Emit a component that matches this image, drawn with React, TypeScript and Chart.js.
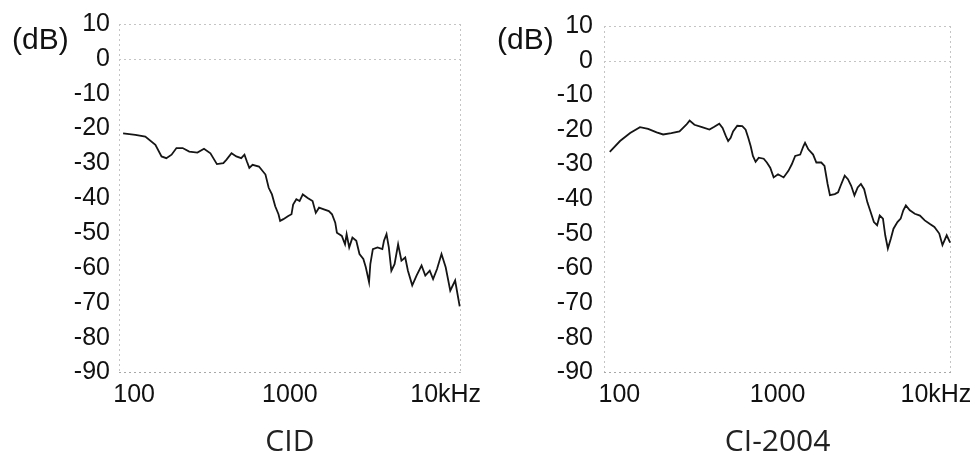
import React, { useEffect, useRef } from "react";
import { Chart, registerables } from "chart.js";

Chart.register(...registerables);

// ---- axis ticks ----
const xTickValues = [100, 1000, 10000];
const xTickLabels = ["100", "1000", "10kHz"];
const yMin = -90;
const yMax = 10;
const yStep = 10;
const xMin = 80;
const xMax = 12500;

// ---- CID response (Hz, dB) ----
const cidFreq = [
  85, 102, 118, 137, 150, 161, 174, 187, 205, 226, 255, 281, 309, 340, 374, 392,
  422, 453, 487, 511, 529, 549, 576, 633, 697, 731, 767, 805, 845, 866, 908, 976,
  1024, 1049, 1100, 1154, 1210, 1301, 1398, 1466, 1538, 1653, 1778, 1864, 1955,
  2003, 2154, 2259, 2313, 2403, 2520, 2668, 2797, 2961, 3071, 3222, 3283, 3408,
  3652, 3922, 4017, 4171, 4315, 4480, 4697, 4950, 5200, 5500, 5723, 6100, 6500,
  7000, 7400, 7900, 8300, 8800, 9400, 10000, 10700, 11500, 11900, 12300,
];
const cidDb = [
  -21.4, -21.8, -22.3, -24.7, -28.0, -28.5, -27.5, -25.6, -25.6, -26.6, -26.9,
  -25.8, -27.1, -30.2, -29.9, -28.9, -27.1, -28.0, -28.5, -27.5, -29.4, -31.3,
  -30.4, -30.9, -33.2, -37.0, -38.9, -42.3, -44.6, -46.5, -46.0, -45.1, -44.6,
  -41.8, -40.3, -40.8, -38.9, -39.9, -40.8, -44.2, -42.7, -43.2, -43.7, -44.6,
  -47.0, -49.9, -50.8, -53.2, -50.3, -54.1, -51.3, -52.2, -56.0, -57.4, -59.8,
  -64.1, -58.9, -54.6, -54.1, -54.6, -52.2, -50.3, -54.1, -60.8, -58.9, -53.2,
  -57.9, -57.0, -60.8, -65.0, -62.2, -59.3, -62.2, -60.8, -63.2, -60.3, -56.0,
  -59.8, -66.5, -63.6, -67.4, -71.0,
];

// ---- CI-2004 response (Hz, dB) ----
const ciFreq = [
  87, 101, 117, 135, 152, 172, 189, 213, 240, 265, 278, 298, 329, 371, 398, 428,
  449, 471, 487, 505, 523, 556, 598, 628, 653, 676, 698, 726, 760, 817, 855, 898,
  944, 1006, 1091, 1170, 1229, 1291, 1389, 1454, 1490, 1563, 1676, 1757, 1887,
  1978, 2069, 2141, 2298, 2409, 2500, 2654, 2781, 2916, 3057, 3205, 3359, 3521,
  3691, 3869, 4057, 4252, 4416, 4629, 4785, 4971, 5194, 5395, 5714, 5989, 6224,
  6459, 6844, 7355, 7925, 8499, 9122, 9781, 10500, 11000, 11700, 12300,
];
const ciDb = [
  -26.3, -23.2, -20.9, -19.2, -19.7, -20.7, -21.3, -20.9, -20.4, -18.5, -17.3,
  -18.5, -19.1, -19.9, -19.1, -18.2, -19.4, -21.8, -23.2, -22.3, -20.4, -18.8,
  -18.9, -19.9, -22.3, -24.7, -27.5, -29.2, -28.0, -28.3, -29.4, -30.9, -33.7,
  -32.8, -33.7, -31.8, -29.9, -27.5, -27.1, -24.7, -23.7, -25.6, -27.1, -29.4,
  -29.4, -30.4, -35.6, -38.8, -38.5, -38.0, -36.1, -33.2, -34.2, -36.1, -38.9,
  -36.6, -35.6, -37.1, -40.9, -43.7, -46.6, -47.5, -44.7, -45.6, -50.4, -54.2,
  -51.3, -48.5, -46.6, -45.6, -43.2, -41.8, -43.2, -44.2, -44.7, -46.1, -47.1,
  -48.0, -49.9, -53.2, -50.4, -52.5,
];

const framePlugin = {
  id: "frame",
  beforeDatasetsDraw(chart: any, _args: any, opts: any) {
    const { ctx, chartArea, scales } = chart;
    const { left, right, top, bottom } = chartArea;
    const y0 = Math.round(scales.y.getPixelForValue(0)) + 0.5;
    ctx.save();
    ctx.strokeStyle = "#c4c4c4";
    ctx.lineWidth = 1;
    ctx.setLineDash([2, 3]);
    ctx.beginPath();
    ctx.moveTo(left, Math.round(top) + 0.5);
    ctx.lineTo(right, Math.round(top) + 0.5);
    ctx.moveTo(left, y0);
    ctx.lineTo(right, y0);
    ctx.moveTo(Math.round(left) + 0.5, top);
    ctx.lineTo(Math.round(left) + 0.5, bottom);
    ctx.moveTo(Math.round(right) - 0.5, top);
    ctx.lineTo(Math.round(right) - 0.5, bottom);
    ctx.stroke();
    ctx.strokeStyle = "#a8a8a8";
    ctx.beginPath();
    ctx.moveTo(left, Math.round(bottom) - 0.5);
    ctx.lineTo(right, Math.round(bottom) - 0.5);
    ctx.stroke();
    ctx.restore();
  },
  afterDraw(chart: any, _args: any, opts: any) {
    const { ctx, chartArea } = chart;
    ctx.save();
    ctx.font = "30px 'Liberation Sans', Arial, sans-serif";
    ctx.fillStyle = "#111";
    ctx.textAlign = "left";
    ctx.textBaseline = "middle";
    ctx.fillText(opts.unit || "", chartArea.left - 107, 41);
    ctx.restore();
  },
};

type PanelProps = {
  freq: number[];
  db: number[];
  title: string;
  left: number;
  axisWidth: number;
  padRight: number;
  yPad: number;
};

function Panel({ freq, db, title, left, axisWidth, padRight, yPad }: PanelProps) {
  const ref = useRef<HTMLCanvasElement | null>(null);
  useEffect(() => {
    if (!ref.current) return;
    const points = freq.map((f, i) => ({ x: f, y: db[i] }));
    const chart = new Chart(ref.current, {
      type: "line",
      data: {
        datasets: [
          {
            data: points,
            borderColor: "#151515",
            borderWidth: 1.8,
            pointRadius: 0,
            tension: 0,
            fill: false,
          },
        ],
      },
      options: {
        responsive: false,
        animation: false,
        layout: { padding: { left: 0, right: padRight, top: 23, bottom: 0 } },
        plugins: {
          legend: { display: false },
          tooltip: { enabled: false },
          frame: { unit: "(dB)" },
        } as any,
        scales: {
          x: {
            type: "logarithmic",
            min: xMin,
            max: xMax,
            afterBuildTicks: (s: any) => {
              s.ticks = xTickValues.map((v) => ({ value: v }));
            },
            afterFit: (s: any) => {
              s.height = 89.5;
            },
            grid: { display: false, drawTicks: false },
            border: { display: false },
            ticks: {
              autoSkip: false,
              maxRotation: 0,
              minRotation: 0,
              padding: 8,
              color: "#111",
              font: { family: "'Liberation Sans', Arial, sans-serif", size: 25 },
              callback: (v: any) => {
                const i = xTickValues.indexOf(Number(v));
                return i >= 0 ? xTickLabels[i] : "";
              },
            },
            title: {
              display: true,
              text: title,
              color: "#222",
              font: { family: "'Open Sans', sans-serif", size: 30 },
              padding: { top: 0, bottom: 2 },
            },
          },
          y: {
            type: "linear",
            min: yMin,
            max: yMax,
            afterFit: (s: any) => {
              s.width = axisWidth;
            },
            grid: { display: false, drawTicks: false },
            border: { display: false },
            ticks: {
              stepSize: yStep,
              padding: yPad,
              color: "#111",
              font: { family: "'Liberation Sans', Arial, sans-serif", size: 25 },
            },
          },
        },
      },
      plugins: [framePlugin],
    });
    return () => chart.destroy();
  }, []);
  return (
    <canvas
      ref={ref}
      width={490}
      height={462}
      style={{ position: "absolute", left, top: 0, width: 490, height: 462 }}
    />
  );
}

export default function App() {
  return (
    <div
      style={{
        position: "absolute",
        left: 0,
        top: 0,
        width: 980,
        height: 462,
        background: "#fff",
        overflow: "hidden",
      }}
    >
      <Panel freq={cidFreq} db={cidDb} title="CID" left={0} axisWidth={119} padRight={20} yPad={9} />
      <Panel freq={ciFreq} db={ciDb} title="CI-2004" left={490} axisWidth={114} padRight={15} yPad={11} />
    </div>
  );
}
